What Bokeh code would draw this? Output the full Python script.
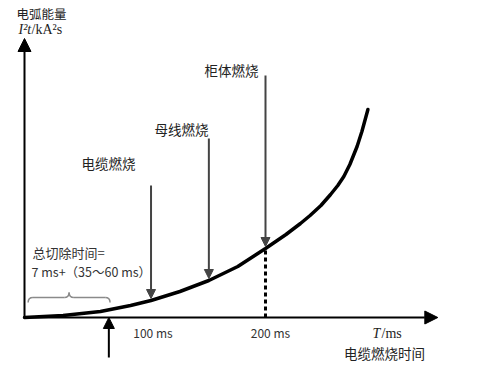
import numpy as np
from bokeh.plotting import figure
from bokeh.models import Range1d, Arrow, NormalHead, Label
from bokeh.embed import file_html
from bokeh.resources import INLINE

# ---- data (energy in relative units) ----
curve_t = [0, 32, 63, 88, 105, 129, 153, 177, 200, 217, 229, 237, 246, 254, 260, 265, 270, 276, 280, 285]
curve_e = [0, 2, 6, 12, 17, 26, 37, 51, 69, 83, 94, 102, 112, 123, 132, 141, 153, 171, 186, 208]
burn_labels = ["电缆燃烧", "母线燃烧", "柜体燃烧"]
burn_times = [105, 153, 200]
burn_arrow_tops = [132, 179, 242]
tick_values = [100, 200]
tick_labels = ["100 ms", "200 ms"]
clear_time = 70          # fault clearing instant (arrow from below)
brace_span = [3, 71]     # total clearing time brace
x_axis_end = 343
y_axis_end = 279

# ---- layout helpers (picture pixel -> data) ----
X0_PAGE, Y0_PAGE, PX_PER_MS = 24, 317, 1.205
W, H = 480, 368
OFF = 0  # observed canvas offset in the picture


def at(xp, yp):
    return ((xp - X0_PAGE) / PX_PER_MS, Y0_PAGE - yp)


x0, y1 = at(OFF, OFF)
x1, y0 = at(OFF + W, OFF + H)

p = figure(width=W, height=H, x_range=Range1d(x0, x1), y_range=Range1d(y0, y1),
           output_backend="svg", toolbar_location=None,
           x_axis_type=None, y_axis_type=None, min_border=0)
p.grid.visible = False
p.outline_line_color = None
p.background_fill_color = "white"

CJK = "Noto Sans CJK SC"
SERIF = "Liberation Serif"
TXT = "#222222"

# axes with arrowheads
p.add_layout(Arrow(end=NormalHead(size=13, fill_color="black", line_color="black"),
                   x_start=0, y_start=0, x_end=x_axis_end, y_end=0,
                   line_width=2, line_color="black"))
p.add_layout(Arrow(end=NormalHead(size=13, fill_color="black", line_color="black"),
                   x_start=0, y_start=0, x_end=0, y_end=y_axis_end,
                   line_width=2, line_color="black"))

# dashed drop line at 200 ms
e200 = float(np.interp(200, curve_t, curve_e))
p.segment(x0=[200], y0=[0], x1=[200], y1=[e200], line_color="black",
          line_width=3, line_dash="4 3")

# main curve
p.line(curve_t, curve_e, line_color="black", line_width=3.5, line_join="round",
       line_cap="round")

# burn arrows
for t, top in zip(burn_times, burn_arrow_tops):
    tip = float(np.interp(t, curve_t, curve_e)) + 2
    p.add_layout(Arrow(end=NormalHead(size=9, fill_color="#444444", line_color="#444444"),
                       x_start=t, y_start=top, x_end=t, y_end=tip,
                       line_width=2, line_color="#444444"))

# clearing-time arrow from below
p.add_layout(Arrow(end=NormalHead(size=11, fill_color="black", line_color="black"),
                   x_start=clear_time, y_start=at(0, 357)[1], x_end=clear_time, y_end=0,
                   line_width=2, line_color="black"))

# curly brace
bx0, bx1 = brace_span
bm = (bx0 + bx1) / 2
yb, ye, yt = 20, 15, 25
r = 4
c = "#8a8a8a"
p.quadratic(x0=[bx0, bm - r, bm + r, bx1], y0=[ye, yb, yb, ye],
            x1=[bx0 + r, bm, bm, bx1 - r], y1=[yb, yt, yt, yb],
            cx=[bx0, bm, bm, bx1], cy=[yb, yb, yb, yb], line_color=c, line_width=1.5)
p.segment(x0=[bx0 + r, bm + r], y0=[yb, yb], x1=[bm - r, bx1 - r], y1=[yb, yb],
          line_color=c, line_width=1.5)


def label(text, xp, yp, size, font=CJK, align="center", style="normal", color=TXT):
    x, y = at(xp, yp)
    p.add_layout(Label(x=x, y=y, text=text, text_font=font, text_font_size=f"{size}px",
                       text_align=align, text_baseline="middle", text_color=color,
                       text_font_style=style))


# burn labels
burn_label_pos = [(108, 162), (181, 128), (231, 69)]
for txt, (xp, yp) in zip(burn_labels, burn_label_pos):
    label(txt, xp, yp, 13.5)

# tick labels
for v, txt in zip(tick_values, tick_labels):
    xp = X0_PAGE + v * PX_PER_MS + (8 if v == 100 else 5)
    label(txt, xp, 332, 12, font=CJK, color="#333333")

# y axis title
label("电弧能量", 41, 13, 12.5)
label("I²t", 18, 29, 14, font=SERIF, align="left", style="italic")
label("/kA²s", 31, 29, 14, font=SERIF, align="left")

# x axis title
label("T", 372, 333, 14, font=SERIF, align="left", style="italic")
label("/ms", 381, 333, 14, font=SERIF, align="left")
label("电缆燃烧时间", 384, 352, 13.5)

# clearing time note
label("总切除时间=", 32, 252, 13, align="left", color="#333333")
label("7 ms+（35～60 ms）", 31, 271, 12.5, align="left", color="#333333")

open("out.html", "w").write(file_html(p, INLINE))
